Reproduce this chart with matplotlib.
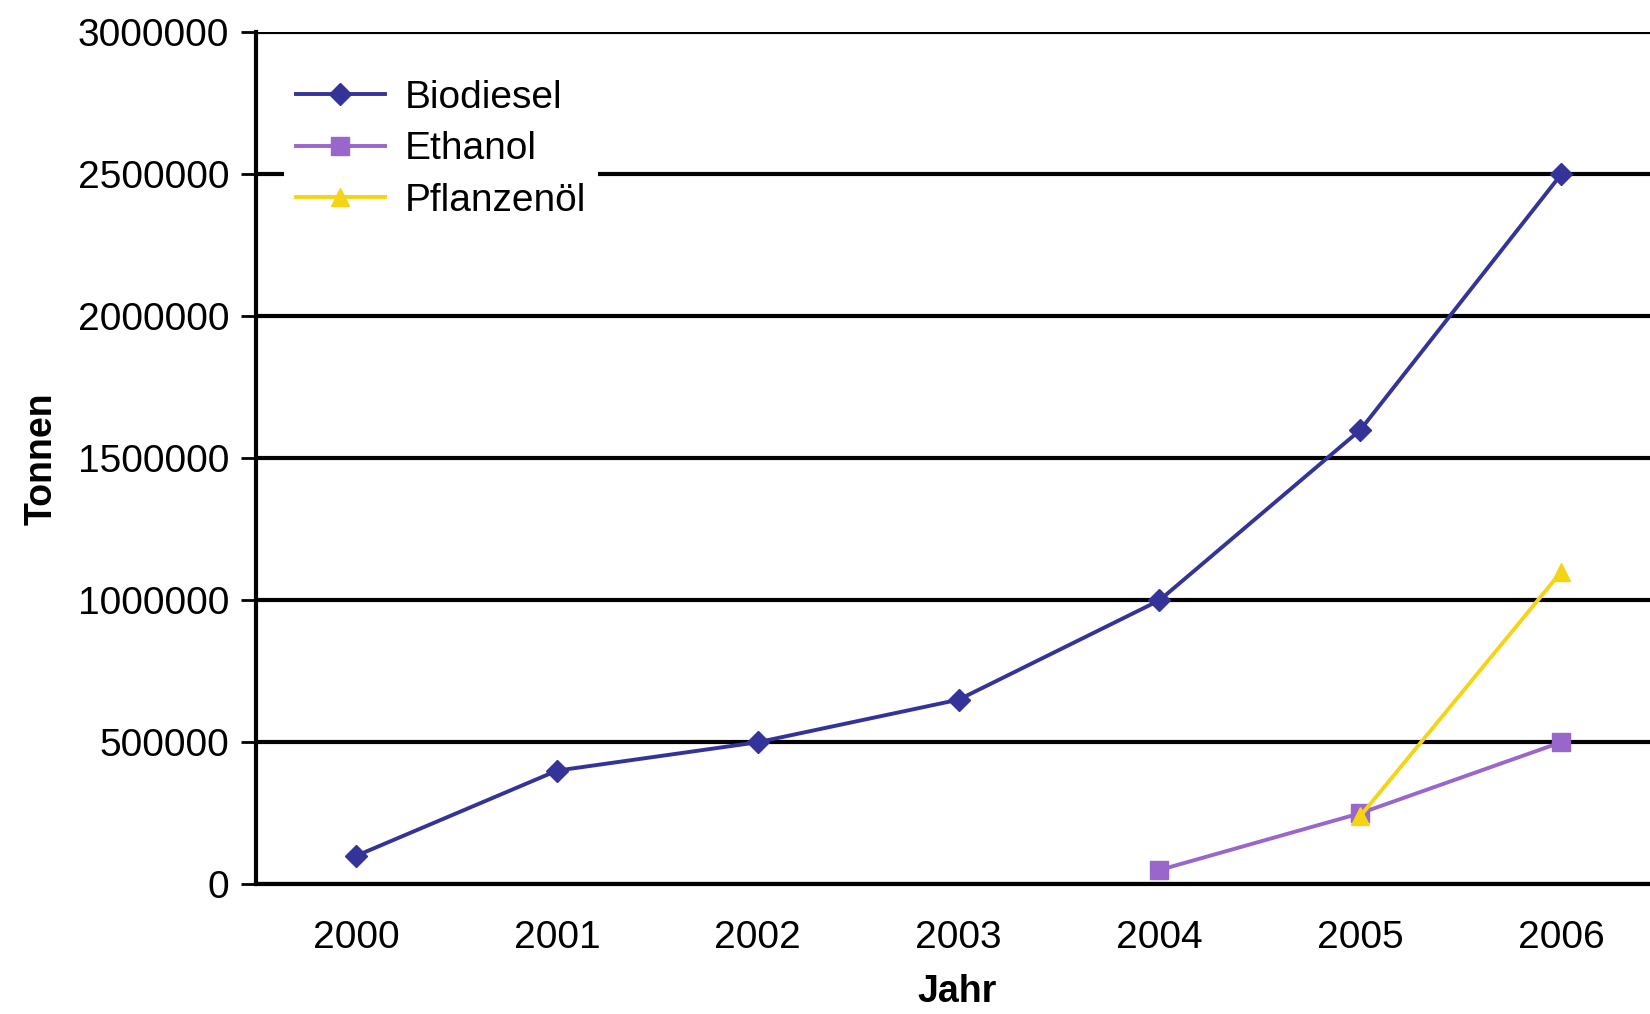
import matplotlib
matplotlib.use("Agg")
import matplotlib.pyplot as plt

jahre = ['2000', '2001', '2002', '2003', '2004', '2005', '2006']
biodiesel = [100000, 400000, 500000, 650000, 1000000, 1600000, 2500000]
ethanol = [None, None, None, None, 50000, 250000, 500000]
pflanzenoel = [None, None, None, None, None, 240000, 1100000]
y_ticks = [0, 500000, 1000000, 1500000, 2000000, 2500000, 3000000]

plt.rcParams['font.family'] = ['Liberation Sans', 'DejaVu Sans']

fig = plt.figure(figsize=(16.5, 10.14), dpi=100)
ax = fig.add_axes([0.155, 0.128, 0.852, 0.84])

x = list(range(len(jahre)))

def serie(werte):
    xs = [i for i, v in zip(x, werte) if v is not None]
    ys = [v for v in werte if v is not None]
    return xs, ys

xs, ys = serie(biodiesel)
ax.plot(xs, ys, color='#333399', lw=2.8, marker='D', ms=11, label='Biodiesel', zorder=4)
xs, ys = serie(ethanol)
ax.plot(xs, ys, color='#9966CC', lw=2.8, marker='s', ms=13, label='Ethanol', zorder=4)
xs, ys = serie(pflanzenoel)
ax.plot(xs, ys, color='#F5D415', lw=2.8, marker='^', ms=13, label='Pflanzenöl', zorder=5)

ax.set_xlim(-0.5, 6.5)
ax.set_ylim(0, 3000000)
ax.set_yticks(y_ticks)
ax.set_yticklabels([str(v) for v in y_ticks], fontsize=28)
ax.set_xticks(x)
ax.set_xticklabels(jahre, fontsize=28)
ax.tick_params(axis='x', length=0, pad=26)
ax.tick_params(axis='y', length=11, width=2, pad=8)

ax.grid(True, axis='y', color='black', lw=3)
ax.set_axisbelow(True)
for s in ['top', 'right']:
    ax.spines[s].set_visible(False)
ax.spines['left'].set_linewidth(3)
ax.spines['bottom'].set_linewidth(3)

ax.set_ylabel('Tonnen', fontsize=27, fontweight='bold', labelpad=13)
fig.text(0.580, 0.022, 'Jahr', fontsize=27, fontweight='bold', ha='center', va='center')

leg = ax.legend(loc='upper left', bbox_to_anchor=(284 / 1650, 1 - 68 / 1014),
                bbox_transform=fig.transFigure, fontsize=28, frameon=True,
                fancybox=False, edgecolor='none', facecolor='white', framealpha=1,
                handlelength=2.3, handletextpad=0.5, borderpad=0.3,
                labelspacing=0.4, borderaxespad=0)
leg.get_frame().set_linewidth(0)

fig.savefig('out.png', dpi=100, facecolor='white')
